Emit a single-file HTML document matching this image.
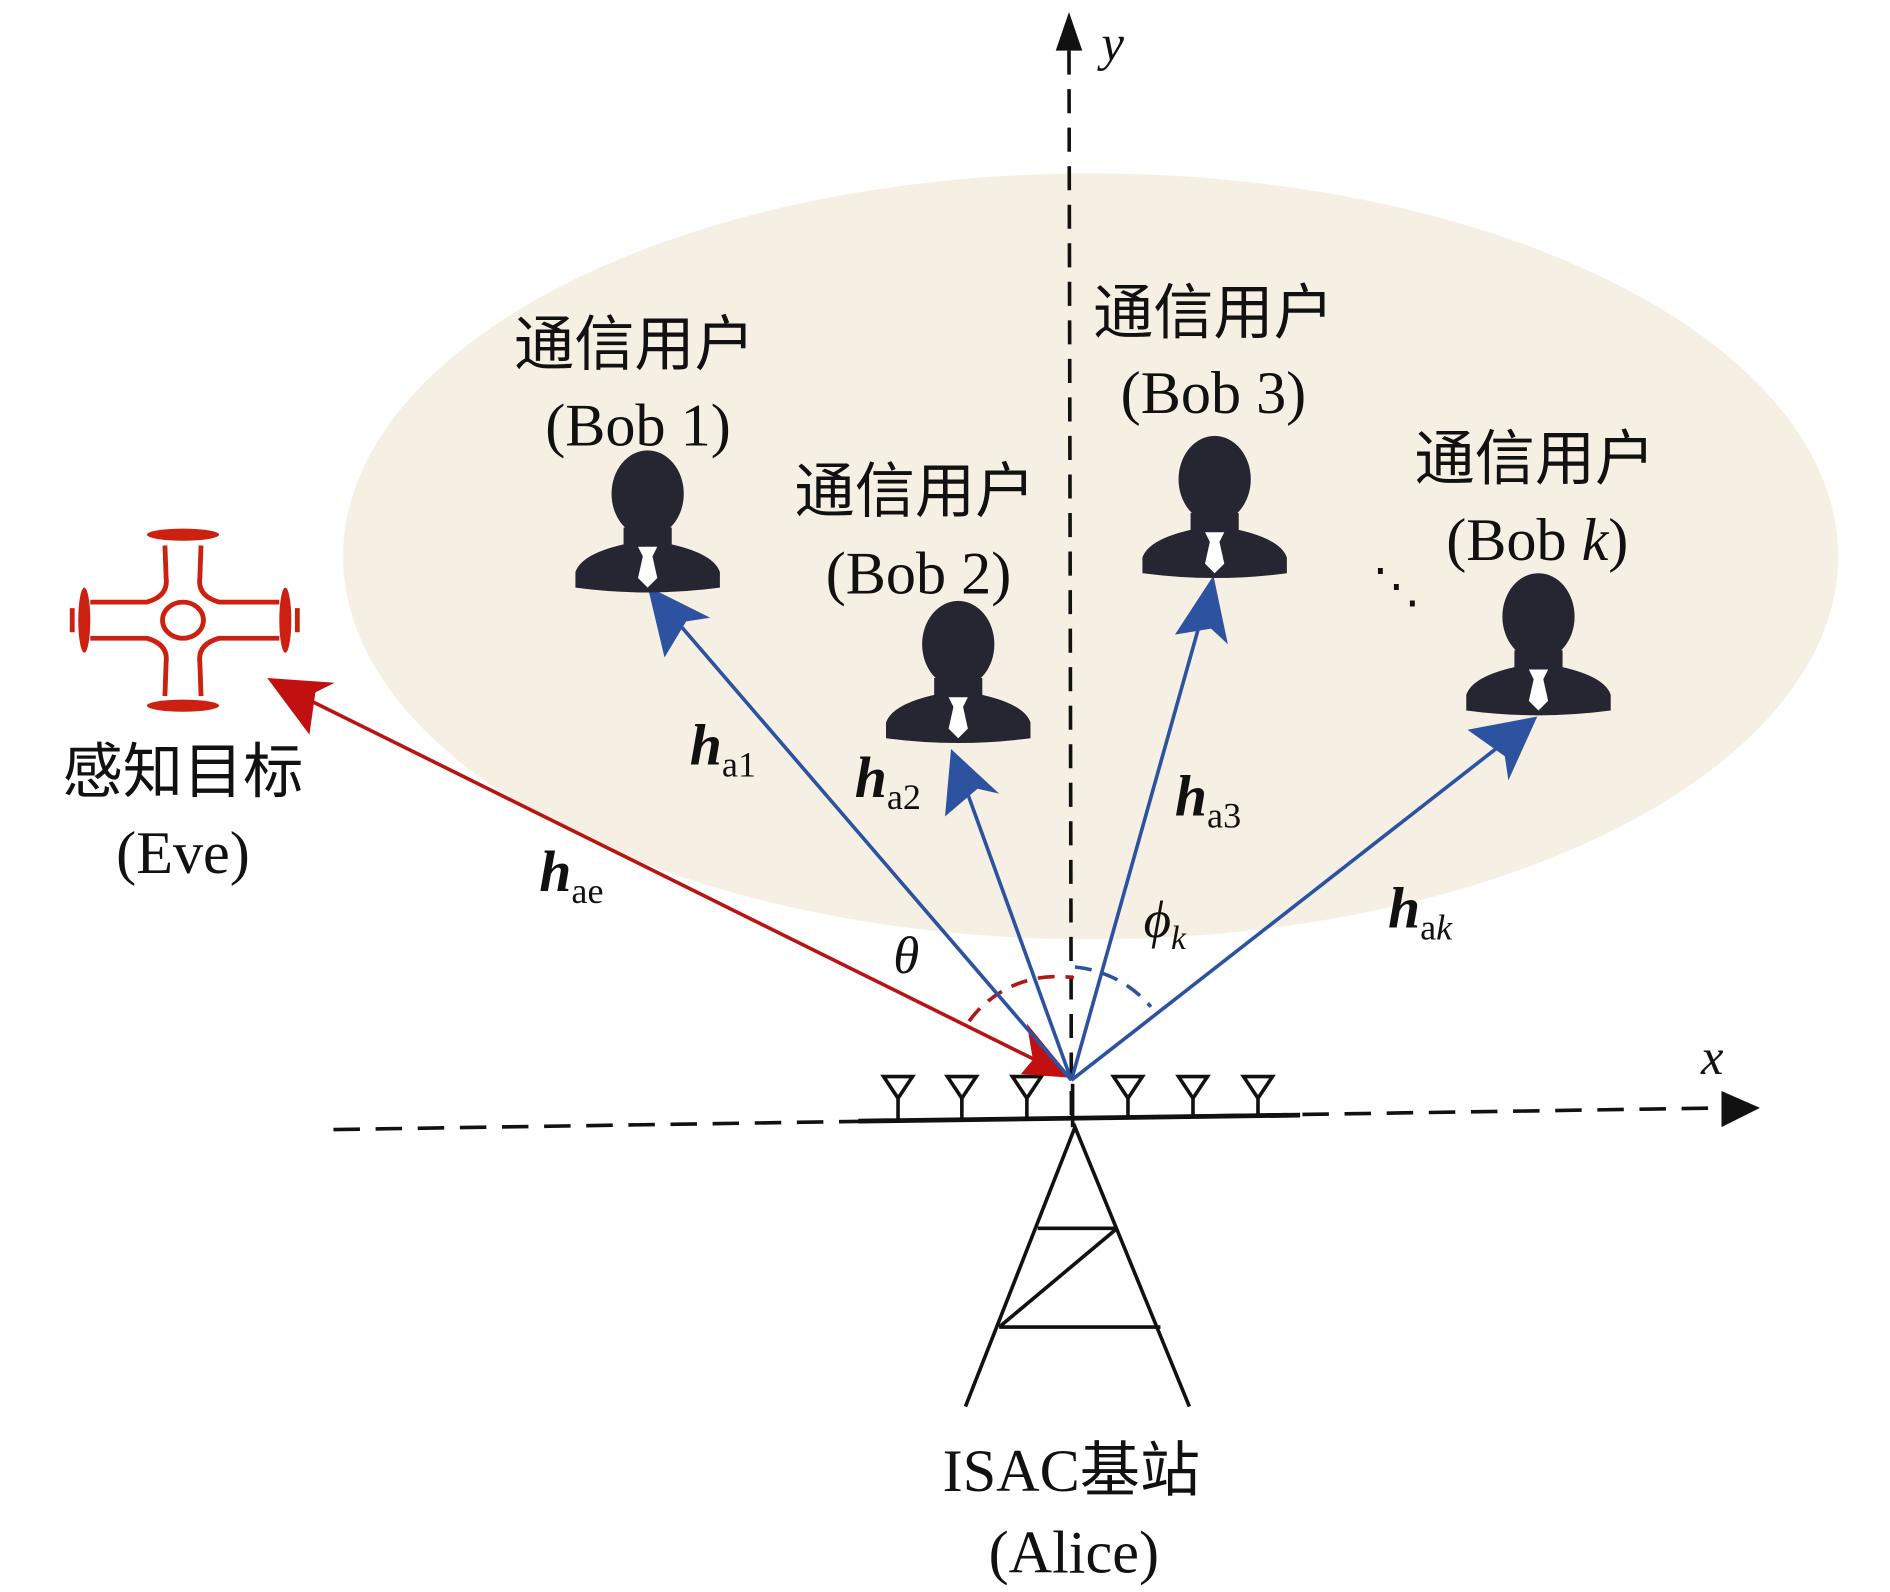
<!DOCTYPE html>
<html><head><meta charset="utf-8"><style>
html,body{margin:0;padding:0;background:#fff;}
svg{display:block;}
text{font-family:"Liberation Serif","Noto Serif CJK SC",serif;fill:#111;}
.cn{font-family:"Liberation Serif","Noto Sans CJK SC",sans-serif;}
.h{font-weight:bold;font-style:italic;font-size:48px;}
.s{font-size:30px;font-style:normal;font-weight:normal;}
</style></head><body>
<svg width="1890" height="1592" viewBox="0 0 1570 1322" preserveAspectRatio="none" xmlns="http://www.w3.org/2000/svg">
<defs>
<g id="p">
<ellipse cx="0" cy="-30" rx="30" ry="36" fill="#262633"/>
<path d="M-20,-2 L-20,12 Q-55,20 -60,35 L-60,48 Q0,56 60,48 L60,35 Q55,20 20,12 L20,-2 Z" fill="#262633"/>
<path d="M-8,14 L8,14 L4,22 L8,40 L0,48 L-8,40 L-4,22 Z" fill="#fff"/>
</g>
</defs>
<ellipse cx="906" cy="462" rx="621" ry="318" fill="#f6f0e4"/>
<line x1="888" y1="42" x2="890" y2="930" stroke="#111" stroke-width="3" stroke-dasharray="20,12"/>
<polygon points="888,10 877,42 899,42" fill="#111"/>
<text x="915" y="50" font-size="42" font-style="italic">y</text>
<line x1="277" y1="938" x2="1432" y2="920" stroke="#111" stroke-width="3" stroke-dasharray="22,13"/>
<polygon points="1462,920 1430,906 1430,936" fill="#111"/>
<text x="1413" y="892" font-size="42" font-style="italic">x</text>
<line x1="713" y1="931" x2="1080" y2="926" stroke="#111" stroke-width="4"/>
<g stroke="#111" stroke-width="3" fill="none">
<path d="M734,894 L758,894 L746,912 Z M746,912 V929"/>
<path d="M787,894 L811,894 L799,912 Z M799,912 V929"/>
<path d="M841,894 L865,894 L853,912 Z M853,912 V929"/>
<path d="M925,894 L949,894 L937,912 Z M937,912 V928"/>
<path d="M979,894 L1003,894 L991,912 Z M991,912 V927"/>
<path d="M1033,894 L1057,894 L1045,912 Z M1045,912 V927"/>
<line x1="891" y1="900" x2="891" y2="936"/>
</g>
<g stroke="#111" stroke-width="3" fill="none">
<path d="M802,1168 L893,936 L988,1168"/>
<line x1="862" y1="1020" x2="928" y2="1020"/>
<line x1="830" y1="1102" x2="964" y2="1102"/>
<line x1="928" y1="1020" x2="830" y2="1102"/>
</g>
<text x="890" y="1238" font-size="50" text-anchor="middle" class="cn">ISAC基站</text>
<text x="892" y="1306" font-size="50" text-anchor="middle">(Alice)</text>
<path d="M805,848 A90,90 0 0 1 892,812" fill="none" stroke="#b01818" stroke-width="3" stroke-dasharray="14,9"/>
<path d="M893,803 A95,95 0 0 1 956,836" fill="none" stroke="#2c52a0" stroke-width="3" stroke-dasharray="14,9"/>
<line x1="890" y1="895" x2="240" y2="573" stroke="#b81414" stroke-width="3"/>
<polygon points="222,563 278,567 262,575 257,610" fill="#c01010"/>
<polygon points="890,895 848,892 858,880 853,850" fill="#c01010"/>
<g stroke="#2c52a0" stroke-width="3">
<line x1="890" y1="897" x2="545" y2="496"/>
<line x1="890" y1="897" x2="794" y2="632"/>
<line x1="890" y1="897" x2="1005" y2="488"/>
<line x1="890" y1="897" x2="1268" y2="602"/>
</g>
<g fill="#2c52a0">
<polygon points="538,487 590,513 570,516 552,546"/>
<polygon points="790,622 830,659 812,655 785,678"/>
<polygon points="1008,478 1020,535 1006,522 976,527"/>
<polygon points="1277,595 1253,648 1250,628 1219,606"/>
</g>
<use href="#p" x="538" y="440"/>
<use href="#p" x="796" y="565"/>
<use href="#p" x="1009" y="428"/>
<use href="#p" x="1278" y="542"/>
<g font-size="50" text-anchor="middle">
<text x="527" y="303" class="cn">通信用户</text>
<text x="530" y="370">(Bob 1)</text>
<text x="760" y="425" class="cn">通信用户</text>
<text x="763" y="493">(Bob 2)</text>
<text x="1008" y="277" class="cn">通信用户</text>
<text x="1008" y="343">(Bob 3)</text>
<text x="1275" y="398" class="cn">通信用户</text>
<text x="1277" y="465">(Bob <tspan font-style="italic">k</tspan>)</text>
<text x="152" y="658" class="cn">感知目标</text>
<text x="152" y="725">(Eve)</text>
</g>
<text x="1140" y="500" font-size="40">⋱</text>
<text x="573" y="635" class="h">h<tspan class="s" dy="10">a1</tspan></text>
<text x="710" y="662" class="h">h<tspan class="s" dy="10">a2</tspan></text>
<text x="976" y="677" class="h">h<tspan class="s" dy="10">a3</tspan></text>
<text x="1153" y="770" class="h">h<tspan class="s" dy="10">a<tspan font-style="italic">k</tspan></tspan></text>
<text x="448" y="740" class="h">h<tspan class="s" dy="10">ae</tspan></text>
<text x="742" y="808" font-size="44" font-style="italic">θ</text>
<text x="950" y="778" font-size="44" font-style="italic">ϕ<tspan font-size="28" dy="10">k</tspan></text>
<g stroke="#cc2010" stroke-width="4" fill="none">
<ellipse cx="152" cy="515" rx="17" ry="15"/>
<path d="M137,453 L138,480 Q140,495 122,500 L75,500"/>
<path d="M167,453 L166,480 Q164,495 182,500 L232,500"/>
<path d="M137,578 L138,550 Q140,535 122,530 L75,530"/>
<path d="M167,578 L166,550 Q164,535 182,530 L232,530"/>
<path d="M70,490 L70,540 M237,490 L237,540"/>
<path d="M60,505 L60,525 M247,505 L247,525"/>
</g>
<g fill="#cc2010">
<ellipse cx="152" cy="444" rx="30" ry="5"/><ellipse cx="152" cy="586" rx="30" ry="5"/>
<ellipse cx="70" cy="515" rx="5" ry="27"/><ellipse cx="237" cy="515" rx="5" ry="27"/>
</g>
</svg>
</body></html>
